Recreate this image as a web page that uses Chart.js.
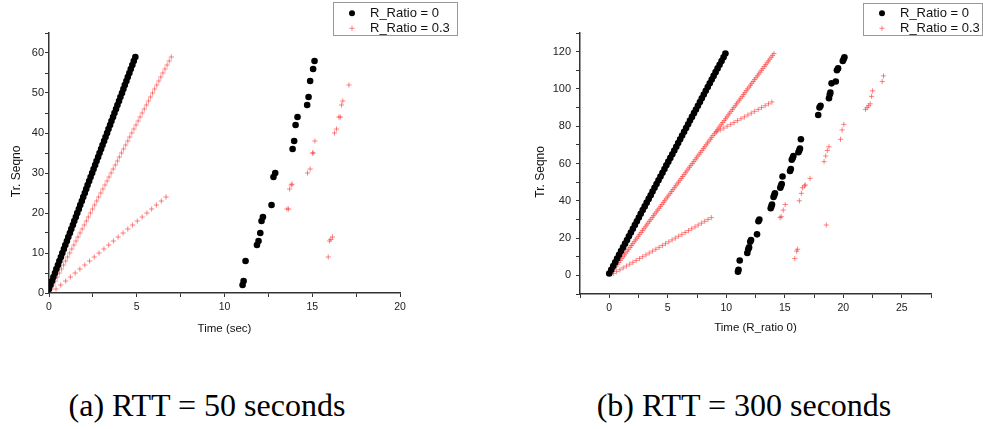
<!DOCTYPE html>
<html>
<head>
<meta charset="utf-8">
<script src="https://cdn.jsdelivr.net/npm/chart.js@4/dist/chart.umd.min.js"></script>
<style>
  body { margin: 0; background: #fff; width: 983px; height: 429px; position: relative; overflow: hidden; }
  .box { position: absolute; top: 0; height: 345px; }
  .cap { position: absolute; top: 387px; font-family: "Liberation Serif", serif; font-size: 32px; color: #000; white-space: nowrap; transform: translateX(-50%); }
</style>
</head>
<body>
<div class="box" style="left:0;width:491px"><canvas id="chartA"></canvas></div>
<div class="box" style="left:491px;width:492px"><canvas id="chartB"></canvas></div>
<div class="cap" style="left:207px">(a) RTT = 50 seconds</div>
<div class="cap" style="left:744px">(b) RTT = 300 seconds</div>
<script>
// legend labels
var seriesNames = ['R_Ratio = 0', 'R_Ratio = 0.3'];

// ---- (a) RTT = 50 s : [time, seqno] ----
var aZeroLine = [[0,1],[0.08,2],[0.17,3],[0.25,4],[0.34,5],[0.42,6],[0.51,7],[0.59,8],[0.68,9],[0.76,10],
  [0.85,11],[0.93,12],[1.02,13],[1.10,14],[1.19,15],[1.27,16],[1.36,17],[1.44,18],[1.53,19],[1.61,20],
  [1.70,21],[1.78,22],[1.87,23],[1.95,24],[2.04,25],[2.12,26],[2.20,27],[2.29,28],[2.37,29],[2.46,30],
  [2.54,31],[2.63,32],[2.71,33],[2.80,34],[2.88,35],[2.97,36],[3.05,37],[3.14,38],[3.22,39],[3.31,40],
  [3.39,41],[3.48,42],[3.56,43],[3.65,44],[3.73,45],[3.82,46],[3.90,47],[3.99,48],[4.07,49],[4.16,50],
  [4.24,51],[4.32,52],[4.41,53],[4.49,54],[4.58,55],[4.66,56],[4.75,57],[4.83,58],[4.92,59]];
var aZeroLate = [[11.03,2],[11.09,3],[11.2,8],[11.85,12],[11.94,13],[12.04,15],[12.11,18],[12.19,19],
  [12.68,22],[12.79,29],[12.89,30],[13.88,36],[13.97,38],[14.05,42],[14.16,44],[14.71,47],[14.79,49],
  [14.88,53],[15.05,56],[15.13,58]];
var aRatioUpper = [[0.12,1],[0.24,2],[0.36,3],[0.47,4],[0.59,5],[0.71,6],[0.83,7],[0.95,8],[1.06,9],[1.18,10],
  [1.30,11],[1.42,12],[1.54,13],[1.65,14],[1.77,15],[1.89,16],[2.01,17],[2.13,18],[2.24,19],[2.36,20],
  [2.48,21],[2.60,22],[2.72,23],[2.83,24],[2.95,25],[3.07,26],[3.19,27],[3.31,28],[3.42,29],[3.54,30],
  [3.66,31],[3.78,32],[3.90,33],[4.01,34],[4.13,35],[4.25,36],[4.37,37],[4.49,38],[4.60,39],[4.72,40],
  [4.84,41],[4.96,42],[5.08,43],[5.19,44],[5.31,45],[5.43,46],[5.55,47],[5.67,48],[5.78,49],[5.90,50],
  [6.02,51],[6.14,52],[6.26,53],[6.37,54],[6.49,55],[6.61,56],[6.73,57],[6.85,58],[6.97,59]];
var aRatioLower = [[0.40,1],[0.67,2],[0.95,3],[1.22,4],[1.49,5],[1.76,6],[2.04,7],[2.31,8],[2.58,9],[2.85,10],
  [3.13,11],[3.40,12],[3.67,13],[3.94,14],[4.22,15],[4.49,16],[4.76,17],[5.03,18],[5.31,19],[5.58,20],
  [5.85,21],[6.12,22],[6.40,23],[6.67,24]];
var aRatioLate = [[13.56,21],[13.65,21],[13.71,26],[13.8,27],[13.85,27.2],[14.73,30],[14.88,31],[15.01,35],
  [15.06,35],[15.15,38],[15.91,9],[15.98,13],[16.06,13.4],[16.15,14],[16.27,40],[16.38,41],[16.52,44],
  [16.6,44],[16.67,47],[16.74,48],[17.09,52]];

// ---- (b) RTT = 300 s : [time, seqno] ----
var bZeroLine = [[0,1],[0.17,3],[0.34,5],[0.51,7],[0.67,9],[0.84,11],[1.01,13],[1.18,15],[1.35,17],[1.52,19],
  [1.68,21],[1.85,23],[2.02,25],[2.19,27],[2.36,29],[2.53,31],[2.69,33],[2.86,35],[3.03,37],[3.20,39],
  [3.37,41],[3.54,43],[3.70,45],[3.87,47],[4.04,49],[4.21,51],[4.38,53],[4.55,55],[4.72,57],[4.88,59],
  [5.05,61],[5.22,63],[5.39,65],[5.56,67],[5.73,69],[5.89,71],[6.06,73],[6.23,75],[6.40,77],[6.57,79],
  [6.74,81],[6.90,83],[7.07,85],[7.24,87],[7.41,89],[7.58,91],[7.75,93],[7.91,95],[8.08,97],[8.25,99],
  [8.42,101],[8.59,103],[8.76,105],[8.92,107],[9.09,109],[9.26,111],[9.43,113],[9.60,115],[9.77,117],[9.93,119]];
var bZeroLate = [[11.0,2],[11.05,3],[11.15,8],[11.8,12],[11.88,14],[11.95,15],[12.05,18],[12.12,19],[12.63,22],
  [12.75,29],[12.83,30],[13.8,36],[13.86,37],[13.91,38],[14.04,42],[14.1,43],[14.16,44],[14.62,47],[14.68,48],
  [14.74,49],[14.81,53],[15.45,56],[15.52,57],[15.6,62],[15.68,63],[15.74,64],[16.17,66],[16.24,67],[16.3,68],
  [16.38,73],[17.86,86],[17.97,90],[18.06,91],[18.78,95],[18.85,97],[18.9,98],[19.0,103],[19.36,104],
  [19.46,110],[19.56,111],[19.96,115],[20.04,116],[20.1,117]];
var bRatioUpper = [[0.12,1],[0.24,2],[0.36,3],[0.47,4],[0.59,5],[0.71,6],[0.83,7],[0.95,8],[1.07,9],[1.18,10],
  [1.30,11],[1.42,12],[1.54,13],[1.66,14],[1.78,15],[1.89,16],[2.01,17],[2.13,18],[2.25,19],[2.37,20],
  [2.49,21],[2.60,22],[2.72,23],[2.84,24],[2.96,25],[3.08,26],[3.20,27],[3.31,28],[3.43,29],[3.55,30],
  [3.67,31],[3.79,32],[3.90,33],[4.02,34],[4.14,35],[4.26,36],[4.38,37],[4.50,38],[4.62,39],[4.73,40],
  [4.85,41],[4.97,42],[5.09,43],[5.21,44],[5.33,45],[5.44,46],[5.56,47],[5.68,48],[5.80,49],[5.92,50],
  [6.04,51],[6.15,52],[6.27,53],[6.39,54],[6.51,55],[6.63,56],[6.74,57],[6.86,58],[6.98,59],[7.10,60],
  [7.22,61],[7.34,62],[7.45,63],[7.57,64],[7.69,65],[7.81,66],[7.93,67],[8.05,68],[8.16,69],[8.28,70],
  [8.40,71],[8.52,72],[8.64,73],[8.75,74],[8.87,75],[8.99,76],[9.11,77],[9.23,78],[9.35,79],[9.47,80],
  [9.58,81],[9.70,82],[9.82,83],[9.94,84],[10.06,85],[10.17,86],[10.29,87],[10.41,88],[10.53,89],[10.65,90],
  [10.77,91],[10.88,92],[11.00,93],[11.12,94],[11.24,95],[11.36,96],[11.48,97],[11.59,98],[11.71,99],[11.83,100],
  [11.95,101],[12.07,102],[12.18,103],[12.30,104],[12.42,105],[12.54,106],[12.66,107],[12.78,108],[12.89,109],[13.01,110],
  [13.13,111],[13.25,112],[13.37,113],[13.49,114],[13.60,115],[13.72,116],[13.84,117],[13.96,118],[14.08,119]];
var bRatioBranch = [[9.20,77],[9.49,78],[9.79,79],[10.08,80],[10.38,81],[10.67,82],[10.96,83],[11.26,84],
  [11.55,85],[11.85,86],[12.14,87],[12.43,88],[12.73,89],[13.02,90],[13.32,91],[13.61,92],[13.90,93]];
var bRatioLower = [[0.35,1],[0.63,2],[0.91,3],[1.19,4],[1.47,5],[1.75,6],[2.02,7],[2.30,8],[2.58,9],[2.86,10],
  [3.14,11],[3.42,12],[3.70,13],[3.98,14],[4.26,15],[4.54,16],[4.81,17],[5.09,18],[5.37,19],[5.65,20],
  [5.93,21],[6.21,22],[6.49,23],[6.77,24],[7.05,25],[7.33,26],[7.60,27],[7.88,28],[8.16,29],[8.44,30],[8.72,31]];
var bRatioLate = [[14.6,31],[14.7,31.5],[14.87,35],[15.04,38],[15.86,9],[16.02,13],[16.1,14],[16.25,40],
  [16.42,44],[16.51,47],[16.68,48],[16.76,48.5],[17.16,52],[18.36,61],[18.5,64],[18.64,67],[18.78,69],
  [18.55,27],[19.77,73],[19.9,78],[20.05,81],[21.9,89],[22.04,90],[22.17,91],[22.3,92],[22.42,96],
  [22.51,99],[23.33,104],[23.44,107]];

var BLACK = '#000';
var RED = 'rgba(255,50,50,0.6)';
var sans = '"Liberation Sans", Arial, sans-serif';

function pts(arr) { return arr.map(function (p) { return { x: p[0], y: p[1] }; }); }

function zeroSet(arr) {
  return { data: pts(arr), pointStyle: 'circle', pointRadius: 3.3, backgroundColor: BLACK, borderWidth: 0 };
}
function ratioSet(arr) {
  return { data: pts(arr), pointStyle: 'cross', pointRadius: 2.6, borderColor: RED, borderWidth: 1, backgroundColor: RED };
}

// small boxed legend in the top right corner
var boxLegend = {
  id: 'boxLegend',
  afterDraw: function (chart, args, o) {
    var ctx = chart.ctx;
    ctx.save();
    ctx.strokeStyle = '#999';
    ctx.lineWidth = 1;
    ctx.fillStyle = '#fff';
    ctx.fillRect(o.x, o.y, o.w, o.h);
    ctx.strokeRect(o.x + 0.5, o.y + 0.5, o.w - 1, o.h - 1);
    var mx = o.x + 19, tx = o.x + 37;
    ctx.fillStyle = BLACK;
    ctx.beginPath();
    ctx.arc(mx, 13.3, 3, 0, Math.PI * 2);
    ctx.fill();
    ctx.strokeStyle = RED;
    ctx.beginPath();
    ctx.moveTo(mx - 2.6, 28.3); ctx.lineTo(mx + 2.6, 28.3);
    ctx.moveTo(mx, 25.7); ctx.lineTo(mx, 30.9);
    ctx.stroke();
    ctx.fillStyle = '#111';
    ctx.font = '13px ' + sans;
    ctx.textBaseline = 'middle';
    ctx.fillText(seriesNames[0], tx, 13.5);
    ctx.fillText(seriesNames[1], tx, 28.5);
    ctx.restore();
  }
};

function every(step) {
  return function (v) {
    var r = Math.abs(v / step - Math.round(v / step));
    return r < 1e-6 ? String(Math.round(v * 100) / 100) : '';
  };
}

function makeChart(id, c) {
  new Chart(document.getElementById(id), {
    type: 'scatter',
    data: { datasets: c.sets },
    plugins: [boxLegend],
    options: {
      responsive: true,
      maintainAspectRatio: false,
      animation: false,
      layout: { padding: { top: 33, left: 0, right: c.padRight, bottom: 0 } },
      plugins: { legend: { display: false }, tooltip: { enabled: false }, boxLegend: c.legend },
      scales: {
        x: {
          type: 'linear', min: c.xMin, max: c.xMax,
          afterFit: function (s) { s.height = c.xHeight; },
          border: { display: true, color: '#333', width: 1.5 },
          grid: { drawOnChartArea: false, drawTicks: true, tickLength: 4, tickColor: '#333' },
          ticks: { stepSize: 2.5, autoSkip: false, maxRotation: 0, padding: 4, color: '#222',
                   font: { family: sans, size: 10.5 }, callback: every(5) },
          title: { display: true, text: c.xTitle, color: '#111', font: { family: sans, size: 11.5 },
                   padding: { top: 0, bottom: c.xTitlePad } }
        },
        y: {
          type: 'linear', min: c.yMin, max: c.yMax,
          afterFit: function (s) { s.width = c.yWidth; },
          border: { display: true, color: '#333', width: 1.5 },
          grid: { drawOnChartArea: false, drawTicks: true, tickLength: 4, tickColor: '#333' },
          ticks: { stepSize: c.yMinor, autoSkip: false, padding: c.yPad, color: '#222',
                   font: { family: sans, size: 11 }, callback: every(c.yMajor) },
          title: { display: true, text: 'Tr. Seqno     ', color: '#111', font: { family: sans, size: 12 },
                   padding: { top: c.yTitlePad, bottom: 0 } }
        }
      }
    }
  });
}

makeChart('chartA', {
  sets: [zeroSet(aZeroLine), zeroSet(aZeroLate), ratioSet(aRatioUpper), ratioSet(aRatioLower), ratioSet(aRatioLate)],
  xMin: 0, xMax: 20, yMin: 0, yMax: 65, yMinor: 5, yMajor: 10,
  padRight: 91, xHeight: 52, yWidth: 49, yPad: 1, xTitlePad: 9, yTitlePad: 9,
  xTitle: 'Time (sec)',
  legend: { x: 333, y: 2, w: 125, h: 34 }
});

makeChart('chartB', {
  sets: [zeroSet(bZeroLine), zeroSet(bZeroLate), ratioSet(bRatioUpper), ratioSet(bRatioBranch), ratioSet(bRatioLower), ratioSet(bRatioLate)],
  xMin: -2.5, xMax: 27.5, yMin: -10, yMax: 130, yMinor: 10, yMajor: 20,
  padRight: 52, xHeight: 51, yWidth: 89, yPad: 5, xTitlePad: 10, yTitlePad: 42,
  xTitle: 'Time (R_ratio 0)',
  legend: { x: 372, y: 3, w: 120, h: 33 }
});
</script>
</body>
</html>
